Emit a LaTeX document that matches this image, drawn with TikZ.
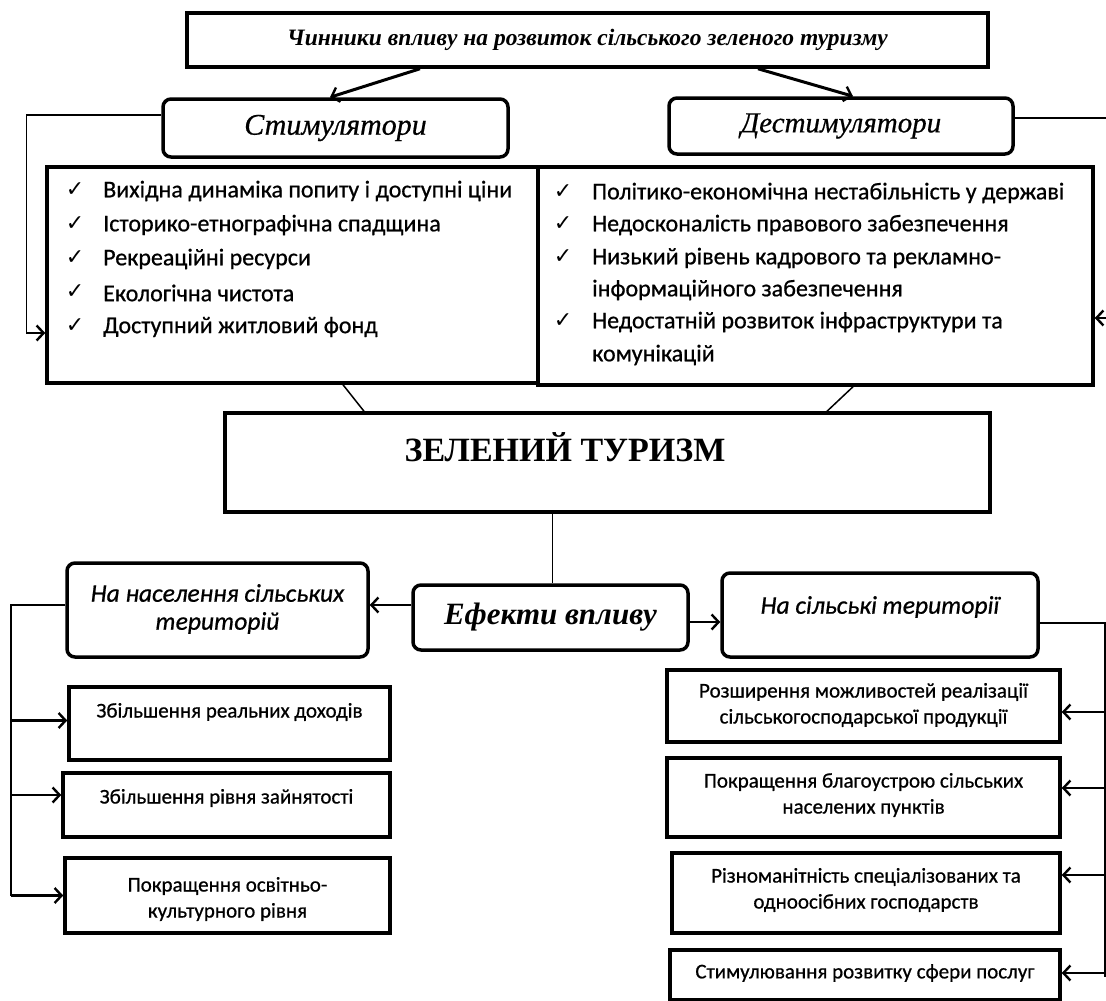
\documentclass[tikz,border=0pt]{standalone}
\usepackage{fontspec}
\setmainfont{Liberation Serif}
\newfontfamily\calib{Carlito}[FakeBold=0.7]
\newfontfamily\serifheavy{Liberation Serif}[FakeBold=0.6]
\newfontfamily\dejv{DejaVu Sans}
\usetikzlibrary{arrows.meta}
\begin{document}
\begin{tikzpicture}[x=1pt,y=-1pt,
  sq/.style={draw, line width=3.5pt, inner sep=0pt},
  rd/.style={sq, rounded corners=8pt},
  conn/.style={line width=1.5pt},
  bus/.style={line width=2.2pt},
  heavy/.style={line width=3pt},
  ar/.style={-{Straight Barb[length=7pt,width=15pt,line width=2.4pt]}},
  lst/.style={font=\calib\fontsize{24}{28}\selectfont, anchor=west, inner sep=0pt},
  chk/.style={font=\dejv\fontsize{22}{24}\selectfont, inner sep=0pt},
  sm/.style={font=\calib\fontsize{21}{26}\selectfont, align=center, inner sep=0pt},
  ital/.style={font=\calib\itshape\fontsize{25.5}{28}\selectfont, align=center, inner sep=0pt}
]
\useasboundingbox (0,0) rectangle (1106,1001);

% top
\node[sq, minimum width=801pt, minimum height=54pt, font=\bfseries\itshape\fontsize{23.5}{26}\selectfont] (title) at (587.5,40) {Чинники впливу на розвиток сільського зеленого туризму};
\node[rd, minimum width=345pt, minimum height=58pt, font=\serifheavy\itshape\fontsize{30}{32}\selectfont] (stim) at (335.5,128) {Стимулятори};
\node[rd, minimum width=344pt, minimum height=56pt, font=\serifheavy\itshape\fontsize{29}{32}\selectfont] (destim) at (841,126) {Дестимулятори};

\draw[heavy, ar] ([xshift=-167.5pt]title.south) -- ([xshift=-5.5pt]stim.north);
\draw[heavy, ar] ([xshift=170.5pt]title.south) -- ([xshift=12pt]destim.north);

% factor boxes
\node[sq, minimum width=491pt, minimum height=216pt] (fleft) at (292.5,275) {};
\node[sq, minimum width=555pt, minimum height=218pt] (fright) at (815.5,276) {};

\node[chk] (c1) at (75,190) {✓};
\node[chk] (c2) at (75,224) {✓};
\node[chk] (c3) at (75,258) {✓};
\node[chk] (c4) at (75,292) {✓};
\node[chk] (c5) at (75,326) {✓};
\node[lst] (l1) at (103,191) {Вихідна динаміка попиту і доступні ціни};
\node[lst] (l2) at (103,225) {Історико-етнографічна спадщина};
\node[lst] (l3) at (103,259) {Рекреаційні ресурси};
\node[lst] (l4) at (103,293) {Екологічна чистота};
\node[lst] (l5) at (103,327) {Доступний житловий фонд};

\node[chk] (d1) at (563,192) {✓};
\node[chk] (d2) at (563,224) {✓};
\node[chk] (d3) at (563,257) {✓};
\node[chk] (d5) at (563,321) {✓};
\node[lst] (r1) at (592,193) {Політико-економічна нестабільність у державі};
\node[lst] (r2) at (592,225) {Недосконалість правового забезпечення};
\node[lst] (r3) at (592,258) {Низький рівень кадрового та рекламно-};
\node[lst] (r4) at (592,290) {інформаційного забезпечення};
\node[lst] (r5) at (592,322) {Недостатній розвиток інфраструктури та};
\node[lst] (r6) at (592,355) {комунікацій};

\draw[conn, ar] ([yshift=13pt]stim.west) -- ++(-135,0) |- ([yshift=-58pt]fleft.west);
\draw[conn, ar] ([yshift=8pt]destim.east) -- ++(94,0) |- ([yshift=-42pt]fright.east);

% green tourism
\node[sq, minimum width=765pt, minimum height=99pt] (green) at (607.5,462.5) {};
\node[font=\bfseries\fontsize{34}{38}\selectfont, inner sep=0pt] (greentx) at (565,447) {ЗЕЛЕНИЙ ТУРИЗМ};
\draw[conn] ([xshift=50.5pt]fleft.south) -- ([xshift=-243.5pt]green.north);
\draw[conn] ([xshift=37.5pt]fright.south) -- ([xshift=219.5pt]green.north);

% effects
\node[rd, minimum width=275pt, minimum height=65pt, font=\bfseries\itshape\fontsize{31}{34}\selectfont] (eff) at (550.5,617.5) {Ефекти впливу};
\draw[conn] ([xshift=-55pt]green.south) -- ([xshift=-55pt]green.south |- eff.north);

\node[rd, minimum width=301pt, minimum height=94pt] (popul) at (217.5,610) {};
\node[ital] (popultx) at (217.5,609) {На населення сільських\\територій};
\node[rd, minimum width=316pt, minimum height=84pt] (terr) at (880,615) {};
\node[ital] (terrtx) at (880,607) {На сільські території};

\draw[bus, ar] ([yshift=12.5pt]eff.west) -- ([yshift=12.5pt]eff.west -| popul.east);
\draw[bus, ar] ([yshift=-4.5pt]eff.east) -- ([yshift=-4.5pt]eff.east -| terr.west);

% left effects
\node[sq, minimum width=321pt, minimum height=73pt] (L1) at (229.5,723.5) {};
\node[sm] (L1tx) at (229.5,712) {Збільшення реальних доходів};
\node[sq, minimum width=327pt, minimum height=64pt] (L2) at (226.5,805) {};
\node[sm] (L2tx) at (226.5,798) {Збільшення рівня зайнятості};
\node[sq, minimum width=325pt, minimum height=75pt] (L3) at (227.5,895.5) {};
\node[sm] (L3tx) at (227.5,899) {Покращення освітньо-\\культурного рівня};

\draw[bus] ([yshift=5pt]popul.west) -- ++(-54,0) coordinate (lb) -- (lb |- L3.west);
\draw[bus, ar] ([yshift=3pt]lb |- L1.west) -- ([yshift=3pt]L1.west);
\draw[bus, ar] ([yshift=10pt]lb |- L2.west) -- ([yshift=10pt]L2.west);
\draw[bus, ar] (lb |- L3.west) -- (L3.west);

% right effects
\node[sq, minimum width=393pt, minimum height=72pt] (R1) at (863.5,706) {};
\node[sm] (R1tx) at (863.5,705) {Розширення можливостей реалізації\\сільськогосподарської продукції};
\node[sq, minimum width=393pt, minimum height=79pt] (R2) at (863.5,797.5) {};
\node[sm] (R2tx) at (863.5,795) {Покращення благоустрою сільських\\населених пунктів};
\node[sq, minimum width=388pt, minimum height=80pt] (R3) at (866,893) {};
\node[sm] (R3tx) at (866,890) {Різноманітність спеціалізованих та\\одноосібних господарств};
\node[sq, minimum width=390pt, minimum height=50pt] (R4) at (865,975) {};
\node[sm] (R4tx) at (865,973) {Стимулювання розвитку сфери послуг};

\draw[conn] ([yshift=-8pt]terr.east) -- ++(65,0) coordinate (rb) -- ([yshift=-2pt]rb |- R4.east);
\draw[conn, ar] ([yshift=-6pt]rb |- R1.east) -- ([yshift=-6pt]R1.east);
\draw[conn, ar] ([yshift=9.5pt]rb |- R2.east) -- ([yshift=9.5pt]R2.east);
\draw[conn, ar] ([yshift=18pt]rb |- R3.east) -- ([yshift=18pt]R3.east);
\draw[conn, ar] ([yshift=2pt]rb |- R4.east) -- ([yshift=2pt]R4.east);
\end{tikzpicture}
\end{document}
